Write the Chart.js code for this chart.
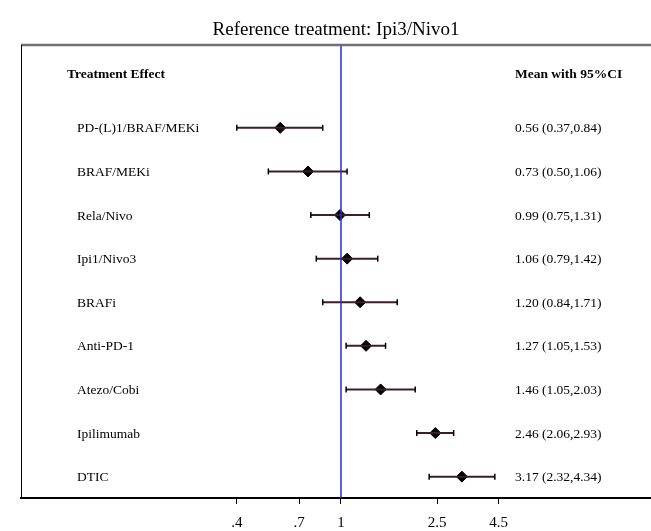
<!DOCTYPE html>
<html lang="en">
<head>
    <meta charset="UTF-8">
    <title>Reference treatment: Ipi3/Nivo1</title>
    <script src="https://cdn.jsdelivr.net/npm/chart.js"></script>
    <style>
        html, body { margin: 0; padding: 0; background: #fff; overflow: hidden; }
        #wrap { width: 651px; height: 531px; }
    </style>
</head>
<body>
    <div id="wrap"><canvas id="chart"></canvas></div>

    <script>
        const title = 'Reference treatment: Ipi3/Nivo1';
        const treatments = ['PD-(L)1/BRAF/MEKi', 'BRAF/MEKi', 'Rela/Nivo', 'Ipi1/Nivo3', 'BRAFi',
                            'Anti-PD-1', 'Atezo/Cobi', 'Ipilimumab', 'DTIC'];
        const means = [0.56, 0.73, 0.99, 1.06, 1.20, 1.27, 1.46, 2.46, 3.17];
        const lower = [0.37, 0.50, 0.75, 0.79, 0.84, 1.05, 1.05, 2.06, 2.32];
        const upper = [0.84, 1.06, 1.31, 1.42, 1.71, 1.53, 2.03, 2.93, 4.34];
        const tickVals = [0.37, 0.67, 1, 2.5, 4.5];
        const tickLabels = ['.4', '.7', '1', '2.5', '4.5'];

        const xMin = 0.0472, xMax = 19.26;
        const yMin = -1.9, yMax = 8.49;   // row slots, top to bottom
        const headerRow = -1.22;

        const serif = '"Liberation Serif", "DejaVu Serif", serif';
        const ciColor = '#3b1e26';

        const fmt = v => v.toFixed(2);

        // one line dataset per confidence interval, capped with vertical point marks
        const ciSets = treatments.map((t, i) => ({
            type: 'line',
            data: [{x: lower[i], y: i}, {x: upper[i], y: i}],
            borderColor: ciColor,
            borderWidth: 2,
            pointStyle: 'line',
            pointRotation: 90,
            pointRadius: 3,
            pointBorderWidth: 1.5,
            pointBorderColor: '#000',
            pointHoverRadius: 3
        }));

        const refLine = {
            type: 'line',
            data: [{x: 1, y: yMin}, {x: 1, y: yMax}],
            borderColor: '#2b2bd6',
            borderWidth: 1.5,
            pointRadius: 0
        };

        const pointSet = {
            type: 'scatter',
            data: treatments.map((t, i) => ({x: means[i], y: i})),
            pointStyle: 'rectRot',
            pointRadius: 5.5,
            backgroundColor: '#000',
            borderColor: '#000'
        };

        const textPlugin = {
            id: 'forestText',
            afterDraw(chart) {
                const c = chart.ctx;
                const y = chart.scales.y;
                const area = chart.chartArea;
                c.save();
                c.fillStyle = '#000';
                c.textBaseline = 'middle';

                c.textAlign = 'center';
                c.font = '19px ' + serif;
                c.fillText(title, (area.left + area.right) / 2, 30);

                c.textAlign = 'left';
                c.font = 'bold 13.5px ' + serif;
                c.fillText('Treatment Effect', 67, y.getPixelForValue(headerRow));
                c.fillText('Mean with 95%CI', 515, y.getPixelForValue(headerRow));

                c.font = '13.5px ' + serif;
                treatments.forEach((t, i) => {
                    const py = y.getPixelForValue(i);
                    c.fillText(t, 77, py + 1);
                    c.fillText(fmt(means[i]) + ' (' + fmt(lower[i]) + ',' + fmt(upper[i]) + ')', 515, py + 1);
                });

                // frame: grey top rule, thin left rule
                c.strokeStyle = '#707070';
                c.lineWidth = 2.5;
                c.beginPath();
                c.moveTo(area.left, area.top);
                c.lineTo(area.right, area.top);
                c.stroke();
                c.strokeStyle = '#000';
                c.lineWidth = 1;
                c.beginPath();
                c.moveTo(area.left + 0.5, area.top);
                c.lineTo(area.left + 0.5, area.bottom);
                c.stroke();
                c.restore();
            }
        };

        new Chart(document.getElementById('chart'), {
            data: { datasets: [refLine, ...ciSets, pointSet] },
            options: {
                responsive: true,
                maintainAspectRatio: false,
                animation: false,
                layout: { autoPadding: false, padding: { left: 21, right: 0, top: 45, bottom: -11 } },
                plugins: {
                    legend: { display: false },
                    tooltip: { enabled: false },
                    title: { display: false }
                },
                scales: {
                    x: {
                        type: 'logarithmic',
                        min: xMin,
                        max: xMax,
                        afterBuildTicks: axis => { axis.ticks = tickVals.map(v => ({ value: v })); },
                        ticks: {
                            autoSkip: false,
                            maxRotation: 0,
                            padding: 10,
                            color: '#000',
                            font: { family: serif, size: 15 },
                            callback: (v, i) => tickLabels[i]
                        },
                        grid: {
                            drawOnChartArea: false,
                            drawTicks: true,
                            tickLength: 6,
                            color: '#000',
                            lineWidth: 1
                        },
                        border: { display: true, color: '#000', width: 2 }
                    },
                    y: {
                        type: 'linear',
                        display: false,
                        reverse: true,
                        min: yMin,
                        max: yMax
                    }
                }
            },
            plugins: [textPlugin]
        });
    </script>
</body>
</html>
